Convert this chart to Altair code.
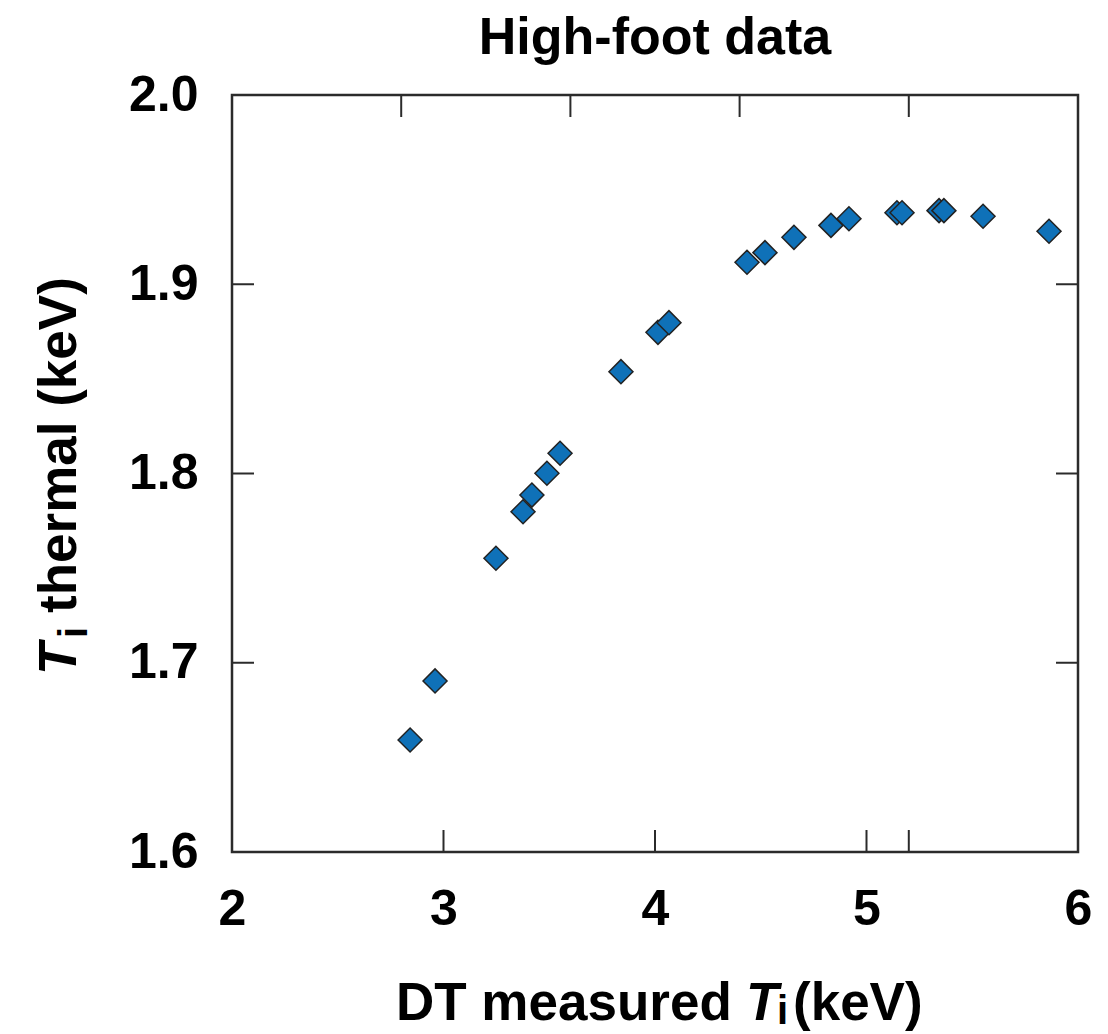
import altair as alt
import pandas as pd

# ---- data ----
measured_ti = [2.842, 2.960, 3.248, 3.376, 3.418, 3.489, 3.551, 3.839, 4.014, 4.066,
               4.435, 4.520, 4.657, 4.832, 4.917, 5.144, 5.168, 5.343, 5.366, 5.551, 5.863]
thermal_ti = [1.6592, 1.6904, 1.7552, 1.7798, 1.7886, 1.8001, 1.8107, 1.8538, 1.8746, 1.8797,
              1.9116, 1.9167, 1.9248, 1.9311, 1.9346, 1.9378, 1.9378, 1.9389, 1.9389, 1.9359, 1.9280]

x_label_values = [2, 3, 4, 5, 6]
y_label_values = [1.6, 1.7, 1.8, 1.9, 2.0]
bottom_tick_values = [3, 4, 5, 5.2]
top_tick_values = [2.8, 3.6, 4.4, 5.2]
side_tick_values = [1.7, 1.8, 1.9]

chart_title = ["High-foot data"]
x_title_main = ["DT measured"]
x_title_sym = ["T"]
x_title_sub = ["i"]
x_title_unit = ["(keV)"]
y_title_sym = ["T"]
y_title_sub = ["i"]
y_title_rest = ["thermal (keV)"]

# ---- layout / style ----
W, H = 846, 757
FONT = "Liberation Sans"
INK = "#000000"
FRAME = "#2b2b2b"
FILL = "#0f71b8"
TICK = 22
TITLE_SIZE = 53

xs = alt.Scale(domain=[2, 6], nice=False, zero=False)
ys = alt.Scale(domain=[1.6, 2.0], nice=False, zero=False)

x_axis = alt.Axis(values=x_label_values, format="d", title=None, ticks=False,
                  tickSize=0, domain=False, grid=False, labelFont=FONT,
                  labelFontSize=50, labelFontWeight="bold", labelColor=INK,
                  labelPadding=32, labelFlush=False)
y_axis = alt.Axis(values=y_label_values, format=".1f", title=None, ticks=False,
                  tickSize=0, domain=False, grid=False, labelFont=FONT,
                  labelFontSize=50, labelFontWeight="bold", labelColor=INK,
                  labelPadding=34, labelFlush=False)

df = pd.DataFrame({"measured": measured_ti, "thermal": thermal_ti})

points = alt.Chart(df).mark_point(
    shape="diamond", filled=True, size=576, fill=FILL, stroke="#222222",
    strokeWidth=1.5, opacity=1
).encode(
    x=alt.X("measured:Q", scale=xs, axis=x_axis),
    y=alt.Y("thermal:Q", scale=ys, axis=y_axis),
)

def rule_x(values, y0, y1):
    return alt.Chart(pd.DataFrame({"measured": values})).mark_rule(
        color=FRAME, strokeWidth=2
    ).encode(x=alt.X("measured:Q", scale=xs, axis=x_axis),
             y=alt.value(y0), y2=alt.value(y1))

def rule_y(values, x0, x1):
    return alt.Chart(pd.DataFrame({"thermal": values})).mark_rule(
        color=FRAME, strokeWidth=2
    ).encode(y=alt.Y("thermal:Q", scale=ys, axis=y_axis),
             x=alt.value(x0), x2=alt.value(x1))

ticks = [
    rule_x(bottom_tick_values, H, H - TICK),
    rule_x(top_tick_values, 0, TICK),
    rule_y(side_tick_values, 0, TICK),
    rule_y(side_tick_values, W - TICK, W),
]

def label(text, x, y, size=TITLE_SIZE, style="normal", angle=0, align="left"):
    return alt.Chart(pd.DataFrame({"t": text})).mark_text(
        font=FONT, fontSize=size, fontWeight="bold", fontStyle=style, color=INK,
        align=align, baseline="alphabetic", angle=angle
    ).encode(text="t:N", x=alt.value(x), y=alt.value(y))

texts = [
    label(chart_title, W / 2, -41, size=52, align="center"),
    label(x_title_main, 164, 925),
    label(x_title_sym, 514, 925, style="italic"),
    label(x_title_sub, 545, 929, size=40),
    label(x_title_unit, 561, 925),
    label(y_title_sym, -156, 580, style="italic", angle=270),
    label(y_title_sub, -145, 543, size=40, angle=270),
    label(y_title_rest, -156, 518, angle=270),
]

chart = alt.layer(points, *ticks, *texts).properties(
    width=W, height=H,
    padding={"left": 224, "top": 87, "right": 20, "bottom": 182},
    autosize=alt.AutoSizeParams(type="none"),
    background="white",
).configure_view(stroke=FRAME, strokeWidth=2.5)

chart.save("out.html", embed_options={"renderer": "svg", "actions": False})
